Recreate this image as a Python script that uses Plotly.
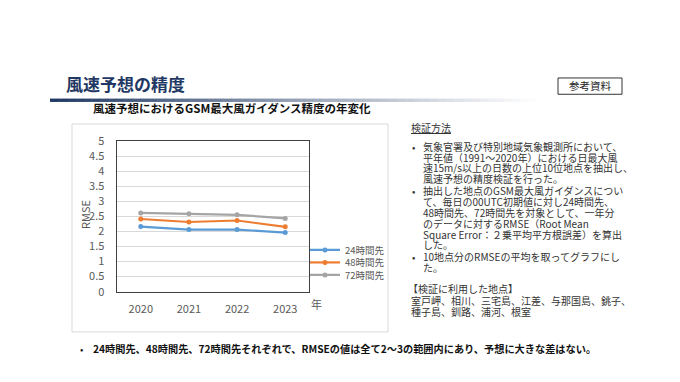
import plotly.graph_objects as go

years = ["2020", "2021", "2022", "2023"]
series_names = ["24時間先", "48時間先", "72時間先"]
rmse_24 = [2.16, 2.06, 2.06, 1.96]
rmse_48 = [2.41, 2.31, 2.36, 2.15]
rmse_72 = [2.61, 2.58, 2.55, 2.43]
colors = ["#5B9BD5", "#ED7D31", "#A5A5A5"]

y_ticks = [0, 0.5, 1, 1.5, 2, 2.5, 3, 3.5, 4, 4.5, 5]
y_tick_labels = ["0", "0.5", "1", "1.5", "2", "2.5", "3", "3.5", "4", "4.5", "5"]

W, H = 680, 382
FONT = "Noto Sans CJK JP"


def px(x):
    return x / W


def py(y):
    return 1 - y / H


legend_ids = ["legend", "legend2", "legend3"]
legend_y = [251.5, 264.5, 277.5]

fig = go.Figure()
for name, vals, c, lid in zip(series_names, [rmse_24, rmse_48, rmse_72], colors, legend_ids):
    fig.add_trace(go.Scatter(
        x=years, y=vals, name=name, mode="lines+markers",
        line=dict(color=c, width=2.2),
        marker=dict(color=c, size=5),
        legend=lid,
    ))

shapes = []
annotations = []

# chart frame
shapes.append(dict(type="rect", xref="paper", yref="paper",
                   x0=px(72), x1=px(388), y0=py(337), y1=py(120),
                   line=dict(color="#D9D9D9", width=1), fillcolor="rgba(0,0,0,0)", layer="below"))

# gradient header bar
n = 60
x_start, x_end = 50, 545
c0 = (31, 56, 100)
for i in range(n):
    t = i / (n - 1)
    a = max(0.0, 1 - t) ** 1.1
    r = int(c0[0] * a + 255 * (1 - a))
    g = int(c0[1] * a + 255 * (1 - a))
    b = int(c0[2] * a + 255 * (1 - a))
    xa = x_start + (x_end - x_start) * i / n
    xb = x_start + (x_end - x_start) * (i + 1) / n
    shapes.append(dict(type="rect", xref="paper", yref="paper",
                       x0=px(xa), x1=px(xb + 0.5), y0=py(97), y1=py(93.5),
                       line=dict(width=0), fillcolor=f"rgb({r},{g},{b})"))

# 参考資料 box
shapes.append(dict(type="rect", xref="paper", yref="paper",
                   x0=px(558), x1=px(622), y0=py(89), y1=py(72),
                   line=dict(color="#333333", width=1), fillcolor="white"))


def ann(text, x, y, size, color="#222222", xanchor="left", bold=False, **kw):
    if bold:
        text = f"<b>{text}</b>"
    annotations.append(dict(text=text, x=px(x), y=py(y), xref="paper", yref="paper",
                            xanchor=xanchor, yanchor="middle", showarrow=False,
                            font=dict(family=FONT, size=size, color=color), **kw))


ann("風速予想の精度", 64, 78, 17, color="#1F3864", bold=True)
ann("参考資料", 590, 79.5, 10.5, color="#222222", xanchor="center")
ann("風速予想におけるGSM最大風ガイダンス精度の年変化", 91, 103.5, 11.5, color="#111111", bold=True)
ann("RMSE", 85, 215, 11, color="#595959", xanchor="center", textangle=-90)
ann("年", 316, 308, 11, color="#595959", xanchor="center")

RS = 10
ann("<u>検証方法</u>", 409, 124, RS, color="#333333")

right_lines = [
    ("bullet", "気象官署及び特別地域気象観測所において、", 143),
    ("cont", "平年値（1991～2020年）における日最大風", 154.5),
    ("cont", "速15m/s以上の日数の上位10位地点を抽出し、", 165.8),
    ("cont", "風速予想の精度検証を行った。", 177),
    ("bullet", "抽出した地点のGSM最大風ガイダンスについ", 189.5),
    ("cont", "て、毎日の00UTC初期値に対し24時間先、", 200.7),
    ("cont", "48時間先、72時間先を対象として、一年分", 212),
    ("cont", "のデータに対するRMSE（Root Mean", 223.5),
    ("cont", "Square Error：２乗平均平方根誤差）を算出", 235),
    ("cont", "した。", 246.3),
    ("bullet", "10地点分のRMSEの平均を取ってグラフにし", 258.8),
    ("cont", "た。", 270),
]
for kind, text, y in right_lines:
    if kind == "bullet":
        ann("•", 410, y, RS, color="#333333")
    ann(text, 421, y, RS, color="#333333")

ann("【検証に利用した地点】", 406, 292.2, RS, color="#333333")
ann("室戸岬、相川、三宅島、江差、与那国島、銚子、", 409, 304.5, RS, color="#333333")
ann("種子島、釧路、浦河、根室", 409, 316, RS, color="#333333")

ann("•", 78, 354, 10, color="#222222")
ann("24時間先、48時間先、72時間先それぞれで、RMSEの値は全て2～3の範囲内にあり、予想に大きな差はない。",
    91, 354, 10.2, color="#111111", bold=True)

legend_common = dict(xanchor="left", yanchor="middle",
                     font=dict(family=FONT, size=9.5, color="#595959"),
                     itemwidth=30, bgcolor="rgba(0,0,0,0)", borderwidth=0)

fig.update_layout(
    width=W, height=H,
    margin=dict(l=0, r=0, t=0, b=0),
    paper_bgcolor="white", plot_bgcolor="white",
    font=dict(family=FONT, color="#595959"),
    showlegend=True,
    legend=dict(x=px(305), y=py(legend_y[0]), **legend_common),
    legend2=dict(x=px(305), y=py(legend_y[1]), **legend_common),
    legend3=dict(x=px(305), y=py(legend_y[2]), **legend_common),
    xaxis=dict(domain=[px(116.7), px(309.3)], type="category", range=[-0.5, 3.5],
               showline=True, linecolor="#404040", linewidth=1.2, mirror=True,
               showgrid=False, ticks="", tickfont=dict(size=11, color="#595959"),
               ticklabelstandoff=7, zeroline=False),
    yaxis=dict(domain=[py(295), py(137.7)], range=[0, 5],
               tickvals=y_ticks, ticktext=y_tick_labels,
               showline=True, linecolor="#404040", linewidth=1.2, mirror=True,
               showgrid=True, gridcolor="#D9D9D9", gridwidth=1,
               ticks="", tickfont=dict(size=11, color="#595959"),
               ticklabelstandoff=9, zeroline=False),
    shapes=shapes, annotations=annotations,
)

fig.write_html("out.html", config={"displayModeBar": False},
               post_script="document.body.style.margin='0';document.body.style.padding='0';")
